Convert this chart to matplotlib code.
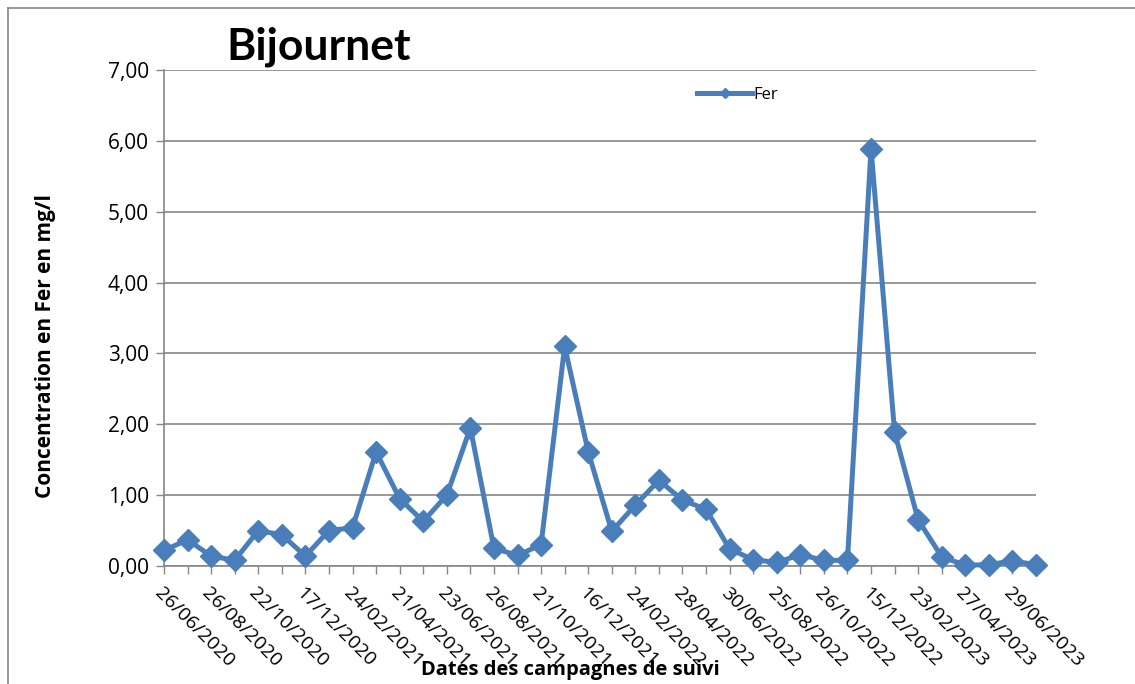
import numpy as np
import matplotlib.pyplot as plt
from matplotlib.lines import Line2D

# Dates des campagnes (une étiquette sur deux affichée)
dates = ["26/06/2020", "", "26/08/2020", "", "22/10/2020", "", "17/12/2020", "",
         "24/02/2021", "", "21/04/2021", "", "23/06/2021", "", "26/08/2021", "",
         "21/10/2021", "", "16/12/2021", "", "24/02/2022", "", "28/04/2022", "",
         "30/06/2022", "", "25/08/2022", "", "26/10/2022", "", "15/12/2022", "",
         "23/02/2023", "", "27/04/2023", "", "29/06/2023", ""]

# Concentration en fer (mg/l)
fer = [0.22, 0.37, 0.14, 0.08, 0.50, 0.44, 0.14, 0.50, 0.54, 1.61,
       0.95, 0.63, 1.00, 1.95, 0.25, 0.15, 0.30, 3.10, 1.61, 0.49,
       0.86, 1.21, 0.93, 0.80, 0.24, 0.09, 0.05, 0.16, 0.08, 0.08,
       5.89, 1.89, 0.65, 0.13, 0.01, 0.02, 0.07, 0.02]

bleu = '#4A7EBB'
gris = '#868686'
police = 'Open Sans'

fig = plt.figure(figsize=(11.35, 6.84), dpi=100)
ax = fig.add_axes([164/1135, 1 - 566/684, (1036 - 164)/1135, (566 - 70)/684])

x = np.arange(len(fer))
ax.plot(x, fer, color=bleu, lw=3.6, marker='D', markersize=11.5, clip_on=False, zorder=3)

ax.set_xlim(0, len(fer) - 1)
ax.set_ylim(0, 7)
ax.set_yticks(np.arange(0, 8, 1))
ax.set_yticklabels([f"{v:.2f}".replace('.', ',') for v in np.arange(0, 8, 1)],
                   fontsize=15, family=police)
ax.set_xticks(x)
ax.set_xticklabels(dates, rotation=-45, ha='left', va='top', rotation_mode='anchor',
                   fontsize=14, family=police)
ax.tick_params(axis='x', length=6, width=1, color=gris, pad=7)
ax.tick_params(axis='y', length=6, width=1, color=gris, pad=5)

ax.grid(axis='y', color=gris, lw=1.2)
ax.set_axisbelow(True)
for s in ['top', 'right']:
    ax.spines[s].set_visible(False)
for s in ['left', 'bottom']:
    ax.spines[s].set_color(gris)
    ax.spines[s].set_linewidth(1.2)

# Titre et étiquettes d'axes
fig.text(319/1135, 1 - 47/684, "Bijournet", fontsize=32, fontweight='bold',
         family='Lato', ha='center', va='center')
fig.text(46/1135, 1 - 346/684, "Concentration en Fer en mg/l", rotation=90,
         fontsize=15, fontweight='bold', family=police, ha='center', va='center')
fig.text(570/1135, 1 - 670/684, "Dates des campagnes de suivi",
         fontsize=14.5, fontweight='bold', family=police, ha='center', va='center')

# Légende
leg = ax.legend([Line2D([], [], color=bleu, lw=3.6, marker='D', markersize=5)], ["Fer"],
                loc='center left', bbox_to_anchor=(682/1135, 1 - 95/684),
                bbox_transform=fig.transFigure, frameon=False, handlelength=3.3,
                handletextpad=0.1, prop={'family': police, 'size': 12})

# Cadre de la zone de graphique
fig.add_artist(Line2D([7.5/1135, 7.5/1135], [0, 1 - 7.5/684], color=gris, lw=1.2))
fig.add_artist(Line2D([7.5/1135, 1], [1 - 7.5/684, 1 - 7.5/684], color=gris, lw=1.2))

fig.savefig('out.png', dpi=100)
